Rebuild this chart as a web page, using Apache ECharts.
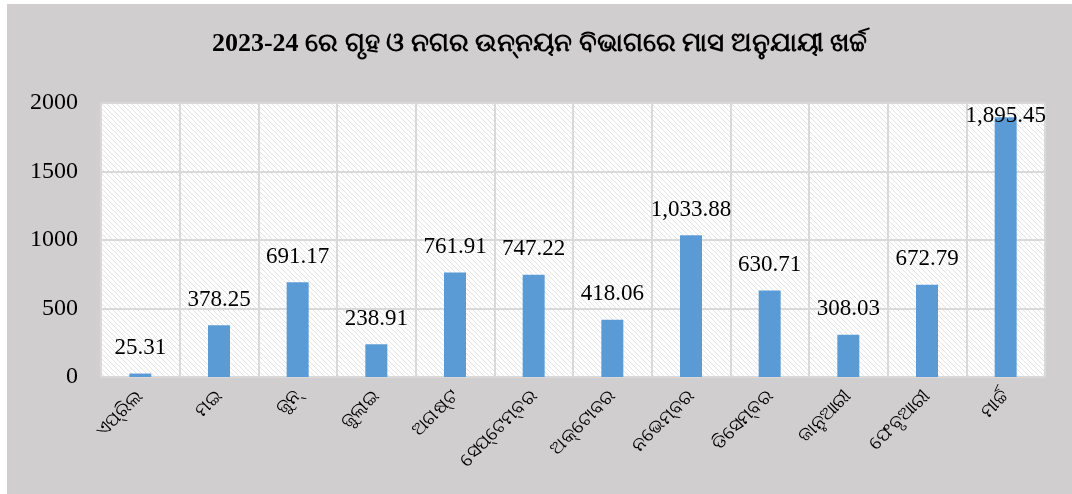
<!DOCTYPE html>
<html lang="or">
<head>
  <meta charset="utf-8" />
  <title>ମାସ ଅନୁଯାୟୀ ଖର୍ଚ୍ଚ</title>
  <style>
    html, body { margin: 0; padding: 0; background: #ffffff; }
    #container { position: absolute; left: 7px; top: 4px; width: 1065px; height: 490px; }
  </style>
</head>
<body>
  <div id="container"></div>
  <script src="https://cdn.jsdelivr.net/npm/echarts@6/dist/echarts.min.js"></script>
  <script>
    var titleText = '2023-24 ରେ ଗୃହ ଓ ନଗର ଉନ୍ନୟନ ବିଭାଗରେ ମାସ ଅନୁଯାୟୀ ଖର୍ଚ୍ଚ';
    var months = ['ଏପ୍ରିଲ', 'ମଇ', 'ଜୁନ୍', 'ଜୁଲାଇ', 'ଅଗଷ୍ଟ', 'ସେପ୍ଟେମ୍ବର', 'ଅକ୍ଟୋବର', 'ନଭେମ୍ବର', 'ଡିସେମ୍ବର', 'ଜାନୁଆରୀ', 'ଫେବୃଆରୀ', 'ମାର୍ଚ୍ଚ'];
    var spending = [25.31, 378.25, 691.17, 238.91, 761.91, 747.22, 418.06, 1033.88, 630.71, 308.03, 672.79, 1895.45];
    var yTicks = [0, 500, 1000, 1500, 2000];

    // light diagonal hatch for the plot area
    var hatch = document.createElement('canvas');
    hatch.width = 5;
    hatch.height = 5;
    var hc = hatch.getContext('2d');
    hc.fillStyle = '#ffffff';
    hc.fillRect(0, 0, 5, 5);
    hc.strokeStyle = '#e4e4e4';
    hc.lineWidth = 1;
    hc.beginPath();
    hc.moveTo(0, 0); hc.lineTo(5, 5);
    hc.moveTo(-2.5, 2.5); hc.lineTo(2.5, 7.5);
    hc.moveTo(2.5, -2.5); hc.lineTo(7.5, 2.5);
    hc.stroke();

    var barData = spending.map(function (v, i) {
      var item = { value: v };
      if (i === spending.length - 1) {
        item.label = { offset: [0, 24] };
      }
      return item;
    });

    var chart = echarts.init(document.getElementById('container'), null, { renderer: 'canvas' });
    var option = {
      backgroundColor: '#d0cece',
      animation: false,
      title: {
        text: titleText,
        left: 'center',
        top: 22,
        textStyle: {
          fontFamily: '"Liberation Serif", "Noto Sans", serif',
          fontWeight: 'bold',
          fontSize: 26,
          color: '#000'
        }
      },
      grid: {
        left: 94,
        right: 27,
        top: 99,
        bottom: 117,
        show: true,
        borderWidth: 0,
        backgroundColor: { image: hatch, repeat: 'repeat' }
      },
      xAxis: {
        type: 'category',
        data: months,
        axisLine: { show: true, lineStyle: { color: '#d9d9d9', width: 1 } },
        axisTick: { show: false },
        splitLine: { show: true, interval: 0, lineStyle: { color: '#d9d9d9', width: 2 } },
        axisLabel: {
          interval: 0,
          rotate: 45,
          margin: 16,
          fontSize: 19,
          color: '#000',
          fontFamily: '"Noto Sans", sans-serif'
        }
      },
      yAxis: {
        type: 'value',
        min: yTicks[0],
        max: yTicks[yTicks.length - 1],
        interval: yTicks[1] - yTicks[0],
        axisLine: { show: false },
        axisTick: { show: false },
        splitLine: { show: true, lineStyle: { color: '#d9d9d9', width: 2 } },
        axisLabel: {
          margin: 23,
          fontSize: 24,
          color: '#000',
          fontFamily: '"Liberation Serif", serif',
          formatter: function (v) { return String(v); }
        }
      },
      series: [{
        type: 'bar',
        data: barData,
        barWidth: 22,
        itemStyle: { color: '#5b9bd5' },
        label: {
          show: true,
          position: 'top',
          distance: 14,
          fontSize: 23,
          color: '#000',
          fontFamily: '"Liberation Serif", serif',
          formatter: function (p) {
            return p.value.toLocaleString('en-US', { minimumFractionDigits: 2, maximumFractionDigits: 2 });
          }
        }
      }]
    };
    chart.setOption(option);
    window.addEventListener('resize', chart.resize);
  </script>
</body>
</html>
